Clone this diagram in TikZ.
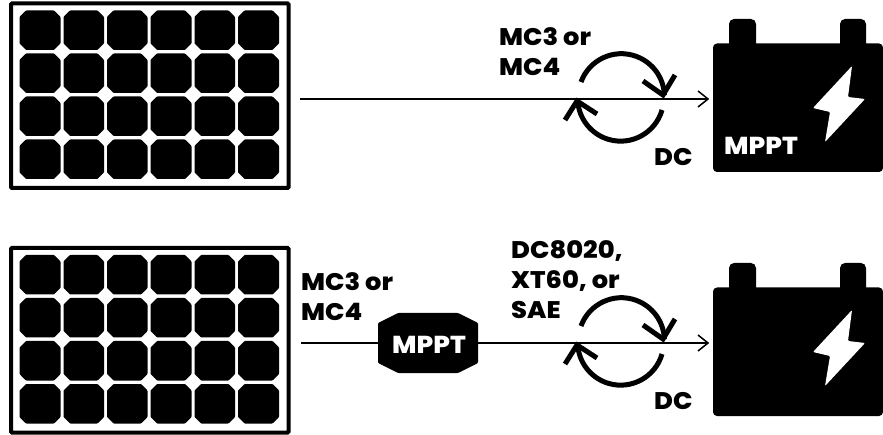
\documentclass[tikz,border=0pt]{standalone}
\usepackage{fontspec}
\setmainfont[BoldFont={Poppins ExtraBold},BoldFeatures={FakeStretch=1.07}]{Poppins}
\begin{document}
\begin{tikzpicture}[x=1pt,y=-1pt,
  frame/.style={draw=black,line width=4pt,rounded corners=1pt},
  wire/.style={draw=black,line width=1.5pt},
  tip/.style={draw=black,line width=1.5pt},
  cycle arc/.style={draw=black,line width=5pt},
  lbl/.style={font=\fontsize{24}{30}\selectfont\bfseries,text=black,align=left,anchor=north west,inner sep=0pt},
  wlbl/.style={font=\fontsize{24.5}{29}\selectfont\bfseries,text=white,inner sep=0pt}]
\useasboundingbox (0,0) rectangle (883,435);
\fill[white] (0,0) rectangle (883,435);
\newcommand{\cellshape}[4]{\fill[black,rounded corners=.7pt] (#1+6.5,#3) -- (#2-6.5,#3) -- (#2,#3+6.5) -- (#2,#4-6.5) -- (#2-6.5,#4) -- (#1+6.5,#4) -- (#1,#4-6.5) -- (#1,#3+6.5) -- cycle;}
\newcommand{\panelshape}[1]{%
  \begin{scope}[shift={(0,#1)}]
  \draw[frame] (11,3.5) rectangle (288.5,188);
  \foreach \xa/\xb in {19.5/60.5,63.5/104,107/147.5,150.5/191.5,194.5/235,238/279}{
    \foreach \ya/\yb in {10.5/50,53.5/93,96.5/136,139.5/179}{
      \cellshape{\xa}{\xb}{\ya}{\yb}
    }
  }
  \end{scope}}
\newcommand{\batteryshape}[1]{%
  \begin{scope}[shift={(0,#1)}]
  \fill[black,rounded corners=4pt] (713,43.5) rectangle (883,172);
  \fill[black,rounded corners=5pt] (729,19) rectangle (756,50);
  \fill[black,rounded corners=5pt] (840,19) rectangle (866,50);
  \fill[white,rounded corners=1pt] (852,66) -- (813,108) -- (830,112) -- (825,142) -- (865,99) -- (848,97) -- cycle;
  \end{scope}}
\newcommand{\cycleshape}[1]{%
  \begin{scope}[shift={(0,#1)}]
  \draw[cycle arc] (581,82) arc[start angle=-160,end angle=-2,radius=43];
  \draw[cycle arc,line join=miter] (643,81) -- (663,95) -- (675,75);
  \draw[cycle arc] (662,110) arc[start angle=16,end angle=172,radius=43];
  \draw[cycle arc,line join=miter] (565,120) -- (577,101) -- (597,114);
  \end{scope}}
\panelshape{0}
\panelshape{244.5}
\batteryshape{0}
\batteryshape{244}
\coordinate (a1) at (300,99);
\coordinate (a2) at (708,99);
\draw[wire] (a1) -- (a2);
\draw[tip] (698,91) -- (708,99) -- (698,107);
\cycleshape{0}
\node[lbl] (t1) at (499,27) {MC3 or\\MC4};
\node[lbl] (t2) at (654,148) {DC};
\node[wlbl,anchor=west] (t3) at (724,145.5) {MPPT};
\coordinate (b1) at (301,343);
\coordinate (b2) at (708,343);
\draw[wire] (b1) -- (b2);
\draw[tip] (698,335) -- (708,343) -- (698,351);
\fill[black,rounded corners=1pt] (398,313) -- (458,313) -- (478,323) -- (478,363) -- (458,373) -- (398,373) -- (378,363) -- (378,323) -- cycle;
\node[wlbl] (t4) at (429,345) {MPPT};
\cycleshape{244}
\node[lbl] (t5) at (301,272) {MC3 or\\MC4};
\node[lbl] (t6) at (511,240) {DC8020,\\XT60, or\\SAE};
\node[lbl] (t7) at (654,392) {DC};
\end{tikzpicture}
\end{document}
